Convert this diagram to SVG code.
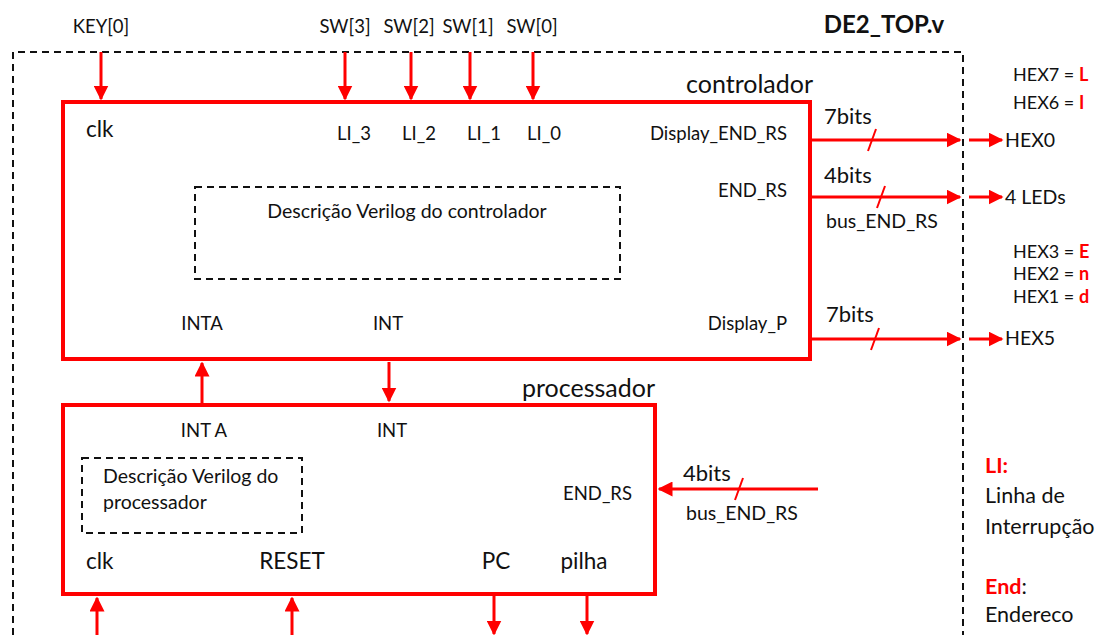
<svg xmlns="http://www.w3.org/2000/svg" width="1099" height="635" viewBox="0 0 1099 635">
<style>
text{font-family:Lato,"Open Sans","Liberation Sans",sans-serif;fill:#111}
.s16{font-size:18.5px}
.s17{font-size:18px}
.s19{font-size:19.5px}
.s18{font-size:22px}
.s21{font-size:21.5px}
.s20{font-size:22.5px}
.s22{font-size:25px}
.red{fill:#ff0000;font-weight:bold}
.box{fill:#fff;stroke:#ff0000;stroke-width:4}
.dash{fill:none;stroke:#111;stroke-width:2;stroke-dasharray:7 5}
.wire{stroke:#ff0000;stroke-width:3;fill:none}
.slash{stroke:#ff0000;stroke-width:2}
</style>
<defs>
<marker id="ah" viewBox="0 0 10 10" refX="9" refY="5" markerWidth="5" markerHeight="5" markerUnits="strokeWidth" orient="auto">
<path d="M0,0 L10,5 L0,10 z" fill="#ff0000"/>
</marker>
</defs>
<rect width="1099" height="635" fill="#fff"/>
<g id="top">
<path class="dash" d="M13,635 V52 H963 V635"/>
<text x="884" y="33" font-size="24" font-weight="bold" text-anchor="middle">DE2_TOP.v</text>
<text x="101" y="33" class="s16" text-anchor="middle">KEY[0]</text>
<text x="345" y="33" class="s16" text-anchor="middle">SW[3]</text>
<text x="409" y="33" class="s16" text-anchor="middle">SW[2]</text>
<text x="468" y="33" class="s16" text-anchor="middle">SW[1]</text>
<text x="532" y="33" class="s16" text-anchor="middle">SW[0]</text>
</g>
<g id="controlador">
<rect class="box" x="63" y="102" width="747" height="257"/>
<text x="813" y="93" class="s22" text-anchor="end">controlador</text>
<text x="86" y="137" class="s20">clk</text>
<text x="354" y="140" class="s16" text-anchor="middle">LI_3</text>
<text x="419" y="140" class="s16" text-anchor="middle">LI_2</text>
<text x="484" y="140" class="s16" text-anchor="middle">LI_1</text>
<text x="544" y="140" class="s16" text-anchor="middle">LI_0</text>
<text x="787" y="140" class="s16" text-anchor="end">Display_END_RS</text>
<text x="787" y="197" class="s16" text-anchor="end">END_RS</text>
<rect class="dash" x="195" y="187" width="425" height="92"/>
<text x="407" y="218" class="s19" text-anchor="middle">Descrição Verilog do controlador</text>
<text x="202" y="330" class="s16" text-anchor="middle">INTA</text>
<text x="388" y="330" class="s16" text-anchor="middle">INT</text>
<text x="787" y="330" class="s16" text-anchor="end">Display_P</text>
</g>
<g id="processador">
<rect class="box" x="63" y="405" width="592" height="189"/>
<text x="655" y="397" class="s22" text-anchor="end">processador</text>
<text x="204" y="437" class="s16" text-anchor="middle">INT A</text>
<text x="392" y="437" class="s16" text-anchor="middle">INT</text>
<rect class="dash" x="82" y="458" width="220" height="75"/>
<text x="103" y="483" class="s19">Descrição Verilog do</text>
<text x="103" y="509" class="s19">processador</text>
<text x="632" y="500" class="s16" text-anchor="end">END_RS</text>
<text x="86" y="569" class="s20">clk</text>
<text x="292" y="569" class="s20" text-anchor="middle">RESET</text>
<text x="496" y="569" class="s20" text-anchor="middle">PC</text>
<text x="584" y="569" class="s20" text-anchor="middle">pilha</text>
</g>
<g id="legend">
<text x="1013" y="81" class="s17">HEX7 = <tspan class="red">L</tspan></text>
<text x="1013" y="109" class="s17">HEX6 = <tspan class="red">I</tspan></text>
<text x="1005" y="147" class="s19">HEX0</text>
<text x="1005" y="204" class="s19">4 LEDs</text>
<text x="1013" y="258" class="s17">HEX3 = <tspan class="red">E</tspan></text>
<text x="1013" y="280" class="s17">HEX2 = <tspan class="red">n</tspan></text>
<text x="1013" y="303" class="s17">HEX1 = <tspan class="red">d</tspan></text>
<text x="1005" y="345" class="s19">HEX5</text>
<text x="985" y="473" class="s21"><tspan class="red">LI:</tspan></text>
<text x="985" y="503" class="s21">Linha de</text>
<text x="985" y="534" class="s21">Interrupção</text>
<text x="985" y="594" class="s21"><tspan class="red">End</tspan>:</text>
<text x="985" y="622" class="s21">Endereco</text>
</g>
<g id="connectors">
<line class="wire" x1="101" y1="52" x2="101" y2="99" marker-end="url(#ah)"/>
<line class="wire" x1="345" y1="52" x2="345" y2="99" marker-end="url(#ah)"/>
<line class="wire" x1="411" y1="52" x2="411" y2="99" marker-end="url(#ah)"/>
<line class="wire" x1="470" y1="52" x2="470" y2="99" marker-end="url(#ah)"/>
<line class="wire" x1="533" y1="52" x2="533" y2="99" marker-end="url(#ah)"/>
<line class="wire" x1="812" y1="140" x2="960" y2="140" marker-end="url(#ah)"/>
<line class="slash" x1="868" y1="151" x2="876" y2="129"/>
<text x="824" y="124" class="s18">7bits</text>
<line class="wire" x1="969" y1="140" x2="1002" y2="140" marker-end="url(#ah)"/>
<line class="wire" x1="812" y1="197" x2="960" y2="197" marker-end="url(#ah)"/>
<line class="slash" x1="877" y1="208" x2="885" y2="186"/>
<text x="824" y="183" class="s18">4bits</text>
<text x="826" y="228" class="s19">bus_END_RS</text>
<line class="wire" x1="969" y1="197" x2="1002" y2="197" marker-end="url(#ah)"/>
<line class="wire" x1="812" y1="339" x2="960" y2="339" marker-end="url(#ah)"/>
<line class="slash" x1="871" y1="350" x2="879" y2="328"/>
<text x="826" y="322" class="s18">7bits</text>
<line class="wire" x1="969" y1="339" x2="1002" y2="339" marker-end="url(#ah)"/>
<line class="wire" x1="202" y1="403" x2="202" y2="363" marker-end="url(#ah)"/>
<line class="wire" x1="389" y1="362" x2="389" y2="401" marker-end="url(#ah)"/>
<line class="wire" x1="818" y1="489" x2="659" y2="489" marker-end="url(#ah)"/>
<line class="slash" x1="735" y1="500" x2="743" y2="478"/>
<text x="683" y="481" class="s18">4bits</text>
<text x="686" y="520" class="s19">bus_END_RS</text>
<line class="wire" x1="97" y1="635" x2="97" y2="598" marker-end="url(#ah)"/>
<line class="wire" x1="292" y1="635" x2="292" y2="598" marker-end="url(#ah)"/>
<line class="wire" x1="494" y1="596" x2="494" y2="634" marker-end="url(#ah)"/>
<line class="wire" x1="587" y1="596" x2="587" y2="634" marker-end="url(#ah)"/>
</g>
</svg>
